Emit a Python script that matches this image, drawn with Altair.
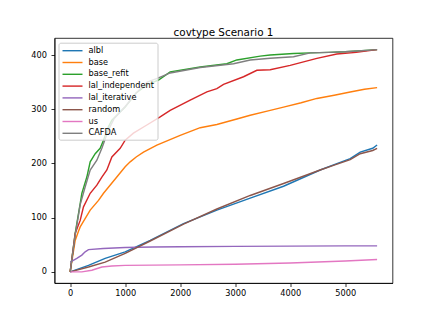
import altair as alt
import pandas as pd

series_names = ["albl", "base", "base_refit", "lal_independent", "lal_iterative", "random", "us", "CAFDA"]
colors = ["#1f77b4", "#ff7f0e", "#2ca02c", "#d62728", "#9467bd", "#8c564b", "#e377c2", "#7f7f7f"]

albl_x = [0, 333, 636, 1000, 1455, 2061, 2667, 3273, 3879, 4545, 4800, 5091, 5273, 5500, 5580]
albl_y = [0, 12, 25, 37, 58, 89, 114, 136, 158, 188, 198, 209, 221, 228, 234]

base_x = [0, 91, 151, 182, 364, 515, 606, 848, 1000, 1091, 1200, 1333, 1576, 2000, 2364, 2667, 3030, 3273, 3600, 3879, 4200, 4485, 4800, 5091, 5350, 5580]
base_y = [0, 58, 75, 83, 114, 132, 145, 175, 194, 203, 212, 221, 234, 252, 266, 272, 282, 289, 297, 304, 312, 320, 326, 332, 337, 340]

base_refit_x = [0, 91, 182, 212, 303, 364, 455, 545, 606, 697, 758, 1000, 1200, 1394, 1606, 1818, 2364, 2848, 3030, 3455, 3636, 4061, 4364, 4700, 5000, 5300, 5580]
base_refit_y = [0, 71, 126, 145, 175, 203, 218, 228, 243, 268, 280, 304, 330, 345, 354, 369, 378, 384, 391, 398, 400, 403, 404, 405, 406, 408, 410]

lal_independent_x = [0, 60, 91, 182, 242, 364, 485, 576, 667, 758, 909, 1000, 1150, 1394, 1636, 1818, 2182, 2485, 2667, 2788, 3152, 3394, 3636, 4000, 4485, 4848, 5200, 5580]
lal_independent_y = [0, 46, 71, 95, 120, 145, 160, 175, 188, 212, 228, 243, 256, 271, 286, 298, 317, 332, 338, 346, 360, 372, 373, 381, 394, 402, 405, 410]

lal_iterative_x = [0, 121, 212, 273, 333, 600, 1000, 1500, 2000, 3000, 4000, 5000, 5580]
lal_iterative_y = [18, 25, 31, 37, 41, 43, 45, 46, 46.5, 47, 47.5, 48, 48]

random_x = [0, 333, 636, 1000, 1455, 2061, 2667, 3273, 3879, 4545, 4800, 5091, 5273, 5500, 5580]
random_y = [0, 9, 18, 34, 57, 88, 116, 141, 163, 188, 197, 207, 218, 224, 228]

us_x = [0, 212, 394, 576, 758, 1000, 2000, 3000, 4000, 5000, 5580]
us_y = [0, 0, 3, 9, 11, 12, 13, 14, 16.5, 20, 23]

cafda_x = [0, 91, 182, 273, 364, 485, 576, 697, 800, 1000, 1200, 1400, 1606, 1818, 2364, 2970, 3273, 3636, 4061, 4364, 4700, 5000, 5300, 5580]
cafda_y = [0, 68, 124, 157, 188, 206, 228, 262, 283, 305, 330, 350, 358, 367, 377, 384, 391, 394, 397, 404, 405, 406, 408, 410]

x_ticks = [0, 1000, 2000, 3000, 4000, 5000]
y_ticks = [0, 100, 200, 300, 400]

all_x = [albl_x, base_x, base_refit_x, lal_independent_x, lal_iterative_x, random_x, us_x, cafda_x]
all_y = [albl_y, base_y, base_refit_y, lal_independent_y, lal_iterative_y, random_y, us_y, cafda_y]

rows = []
for i, (name, xs, ys) in enumerate(zip(series_names, all_x, all_y)):
    for j, (xv, yv) in enumerate(zip(xs, ys)):
        rows.append({"series": name, "order": i, "idx": j, "x": xv, "y": yv})
df = pd.DataFrame(rows)

FONT = "DejaVu Sans"

chart = alt.Chart(df).mark_line(strokeWidth=1.42).encode(
    x=alt.X("x:Q", scale=alt.Scale(domain=[-285, 5860], nice=False, zero=False),
            axis=alt.Axis(values=x_ticks, title=None, grid=False, format="d", labelPadding=2.5)),
    y=alt.Y("y:Q", scale=alt.Scale(domain=[-20.5, 431.5], nice=False, zero=False),
            axis=alt.Axis(values=y_ticks, title=None, grid=False, format="d", labelPadding=4.5)),
    color=alt.Color("series:N", sort=series_names,
                    scale=alt.Scale(domain=series_names, range=colors),
                    legend=alt.Legend(title=None, orient="none", legendX=4, legendY=4.7,
                                      symbolType="M-1,0L4,0", symbolSize=64,
                                      symbolStrokeWidth=1.42, labelOffset=17,
                                      rowPadding=2.8, padding=3,
                                      fillColor="rgba(255,255,255,0.8)",
                                      strokeColor="#cccccc", cornerRadius=2,
                                      labelFont=FONT, labelFontSize=8.2,
                                      labelColor="black")),
    detail="order:O",
    order="idx:Q",
).properties(
    width=338, height=245,
    title=alt.TitleParams("covtype Scenario 1", font=FONT, fontSize=10.4,
                          fontWeight="normal", color="black", anchor="middle",
                          offset=3, dy=3),
    autosize=alt.AutoSizeParams(type="none"),
    padding={"left": 46.5, "top": 30, "right": 35.5, "bottom": 33},
).configure_view(
    stroke="black", strokeWidth=0.8
).configure_axis(
    labelFont=FONT, labelFontSize=8.2, labelColor="black",
    tickColor="black", tickSize=3.5, tickWidth=0.8,
    domainColor="black", domainWidth=0.8,
)

chart.save("out.html", embed_options={"renderer": "svg", "actions": False})
